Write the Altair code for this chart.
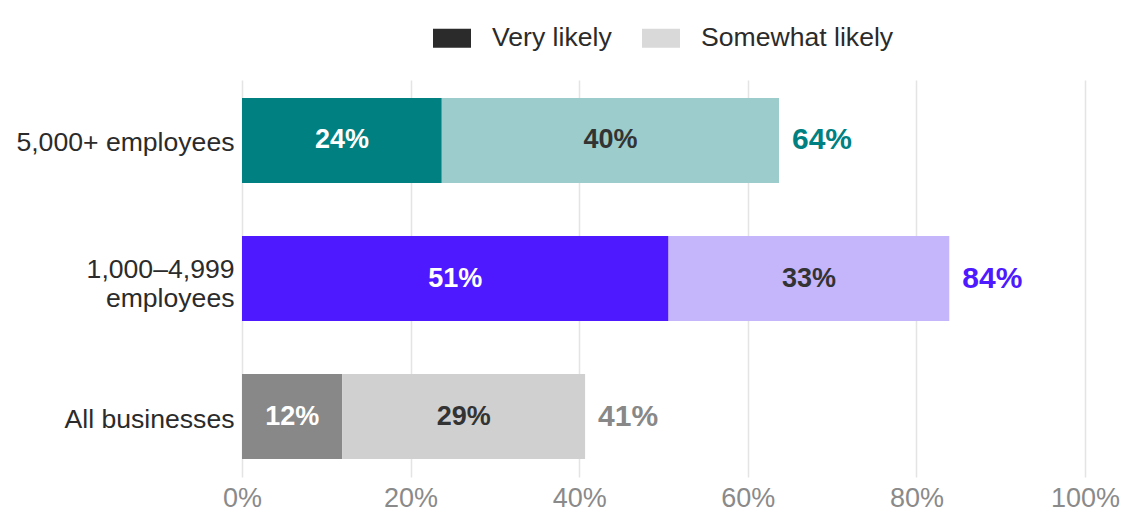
import altair as alt
import pandas as pd

categories = ["5,000+ employees", "1,000–4,999 employees", "All businesses"]
very_likely = [23.7, 50.6, 11.9]
somewhat_likely = [40.0, 33.3, 28.8]
dark_colors = ["#008080", "#4f19ff", "#888888"]
light_colors = ["#9ccccc", "#c5b6fc", "#d0d0d0"]
segments = ["Very likely", "Somewhat likely"]
legend_colors = ["#2b2b2b", "#d9d9d9"]
label_colors = ["#ffffff", "#333333"]

rows = []
for i, c in enumerate(categories):
    rows.append({"category": c, "segment": segments[0], "order": 0, "value": very_likely[i],
                 "fill": dark_colors[i], "labelcolor": label_colors[0], "totalcolor": dark_colors[i]})
    rows.append({"category": c, "segment": segments[1], "order": 1, "value": somewhat_likely[i],
                 "fill": light_colors[i], "labelcolor": label_colors[1], "totalcolor": dark_colors[i]})
df = pd.DataFrame(rows)

FONT = "Liberation Sans"

y_enc = alt.Y(
    "category:N",
    sort=categories,
    title=None,
    scale=alt.Scale(paddingInner=0.384, paddingOuter=0.13),
    axis=alt.Axis(
        labelFontSize=26.6, labelColor="#2b2b2b", labelFont=FONT, labelPadding=8,
        ticks=False, domain=False, labelLineHeight=29, labelLimit=0,
        labelOffset={"condition": {"test": "datum.value == '1,000–4,999 employees'", "value": -9}, "value": 3},
        labelExpr="datum.label == '1,000–4,999 employees' ? ['1,000–4,999', 'employees'] : datum.label",
    ),
)

x_scale = alt.Scale(domain=[0, 100])
x_axis = alt.Axis(
    values=[0, 20, 40, 60, 80, 100], labelExpr="datum.value + '%'", title=None,
    labelFontSize=27, labelColor="#8a8a8a", labelFont=FONT, labelPadding=8,
    labelFlush=False, ticks=False, domain=False, grid=True, gridColor="#e4e4e4", gridWidth=1.5,
)

base = alt.Chart(df).transform_stack(
    stack="value", groupby=["category"], as_=["x0", "x1"], sort=[alt.SortField("order")]
).transform_calculate(mid="(datum.x0 + datum.x1) / 2", pct="format(datum.value, '.0f') + '%'")

bars = base.mark_bar().encode(
    x=alt.X("x0:Q", scale=x_scale, axis=x_axis),
    x2="x1:Q",
    y=y_enc,
    fill=alt.Fill("fill:N", scale=None),
)

seg_text = base.mark_text(font=FONT, fontSize=27, fontWeight="bold").encode(
    x=alt.X("mid:Q"),
    y=alt.Y("category:N", sort=categories),
    text="pct:N",
    color=alt.Color("labelcolor:N", scale=None),
)

totals = alt.Chart(df).transform_aggregate(
    total="sum(value)", groupby=["category", "totalcolor"]
).transform_calculate(
    label="format(datum.total, '.0f') + '%'"
).mark_text(font=FONT, fontSize=30, fontWeight="bold", align="left", dx=13).encode(
    x=alt.X("total:Q"),
    y=alt.Y("category:N", sort=categories),
    text="label:N",
    color=alt.Color("totalcolor:N", scale=None),
)

legend_layer = alt.Chart(df).mark_square(opacity=0, size=1).encode(
    x=alt.X("x0:Q"),
    y=alt.Y("category:N", sort=categories),
    color=alt.Color(
        "segment:N",
        scale=alt.Scale(domain=segments, range=legend_colors),
        legend=alt.Legend(
            title=None, orient="none", direction="horizontal",
            legendX=191, legendY=-61,
            symbolType="M-1,-0.5H1V0.5H-1Z", symbolSize=1444, symbolOpacity=1,
            symbolStrokeWidth=0, labelLimit=0,
            labelFontSize=26.6, labelFont=FONT, labelColor="#2b2b2b",
            labelOffset=21, columnPadding=30,
        ),
    ),
).transform_stack(
    stack="value", groupby=["category"], as_=["x0", "x1"], sort=[alt.SortField("order")]
)

chart = alt.layer(bars, seg_text, totals, legend_layer).properties(
    width=843, height=397,
    autosize=alt.AutoSizeParams(type="none"),
    padding={"left": 234, "top": 72, "right": 43, "bottom": 42},
).configure_view(strokeWidth=0, stroke="transparent")

chart.save("out.html", embed_options={"renderer": "svg", "actions": False})
